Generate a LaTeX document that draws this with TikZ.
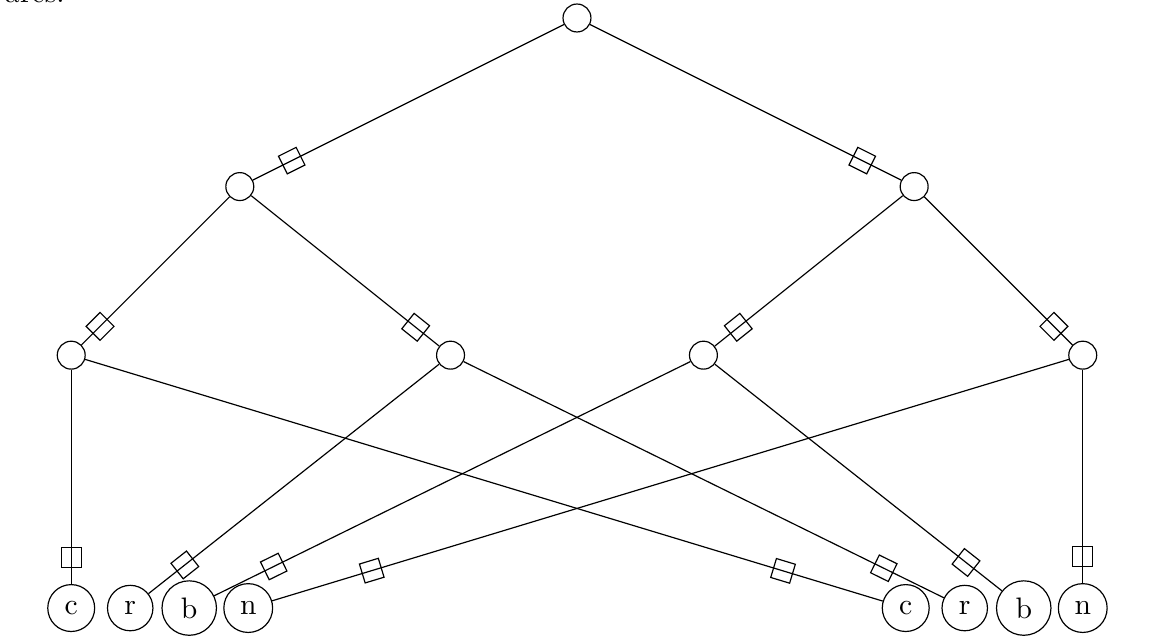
\documentclass[tikz,border=0pt]{standalone}
\begin{document}
\begin{tikzpicture}[
  inner/.style={circle,draw,inner sep=0.3333em},
  leaf/.style={circle,draw},
  sq/.style={rectangle,draw,sloped,pos=0.875}
]
\useasboundingbox (-6.845,0.2135) rectangle (6.94,-7.402);
\node[anchor=base west,inner sep=0pt] (cap) at (-6.79,0.178) {arcs.};
\node[inner] (R) at (0,0) {};
\node[inner] (A) at (-4,-2) {};
\node[inner] (B) at (4,-2) {};
\node[inner] (A1) at (-6,-4) {};
\node[inner] (A2) at (-1.5,-4) {};
\node[inner] (B1) at (1.5,-4) {};
\node[inner] (B2) at (6,-4) {};
\node[leaf] (lc) at (-6,-7) {c};
\node[leaf] (lr) at (-5.3,-7) {r};
\node[leaf] (lb) at (-4.6,-7) {b};
\node[leaf] (ln) at (-3.9,-7) {n};
\node[leaf] (rc) at (3.9,-7) {c};
\node[leaf] (rr) at (4.6,-7) {r};
\node[leaf] (rb) at (5.3,-7) {b};
\node[leaf] (rn) at (6,-7) {n};
\draw (R) -- node[sq]{} (A);
\draw (R) -- node[sq]{} (B);
\draw (A) -- node[sq]{} (A1);
\draw (A) -- node[sq]{} (A2);
\draw (B) -- node[sq]{} (B1);
\draw (B) -- node[sq]{} (B2);
\draw (A1) -- node[sq]{} (lc);
\draw (A1) -- node[sq]{} (rc);
\draw (A2) -- node[sq]{} (lr);
\draw (A2) -- node[sq]{} (rr);
\draw (B1) -- node[sq]{} (lb);
\draw (B1) -- node[sq]{} (rb);
\draw (B2) -- node[sq]{} (ln);
\draw (B2) -- node[sq]{} (rn);
\end{tikzpicture}
\end{document}
